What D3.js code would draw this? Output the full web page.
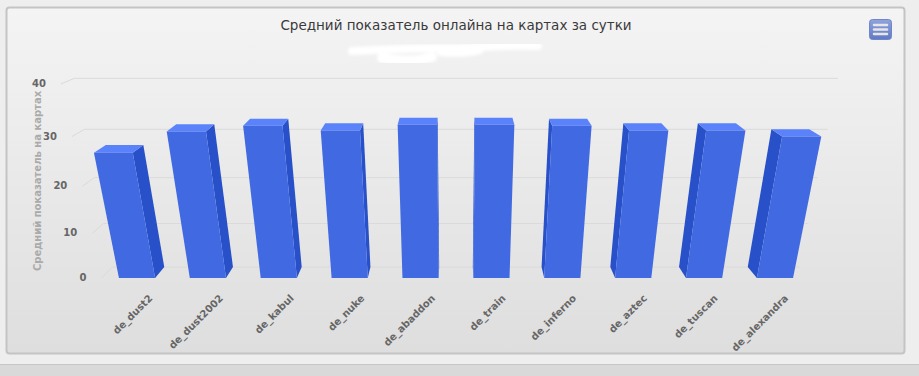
<!DOCTYPE html>
<html>
<head>
<meta charset="utf-8">
<script src="https://d3js.org/d3.v7.min.js"></script>
<style>
  body { margin: 0; background: #efefef; }
  svg { display: block; font-family: "DejaVu Sans", sans-serif; }
</style>
</head>
<body>
<svg width="919" height="376"></svg>
<script>
// data
var maps = ["de_dust2", "de_dust2002", "de_kabul", "de_nuke", "de_abaddon",
            "de_train", "de_inferno", "de_aztec", "de_tuscan", "de_alexandra"];
var online = [26.8, 31, 32.1, 31.2, 32.3, 32.3, 32.1, 31.2, 31.2, 30];
var yTicks = [0, 10, 20, 30, 40];
var title = "Средний показатель онлайна на картах за сутки";
var yTitle = "Средний показатель на картах";

var svg = d3.select("svg");
var plot = {left: 81, right: 831, top: 82.4, bottom: 291.1};

// simple 3d view: tilt around horizontal axis + perspective
var view = {cx: 456, cy: 180, alpha: 21 * Math.PI / 180, dist: 686, depth: 24.4};
function project(X, Y, Z) {
  var ca = Math.cos(view.alpha), sa = Math.sin(view.alpha);
  var x = X - view.cx, y = Y - view.cy;
  var y2 = ca * y - sa * Z, z2 = sa * y + ca * Z;
  var p = view.dist / (view.dist + z2);
  return [view.cx + x * p, view.cy + y2 * p];
}
function poly(pts) {
  return "M" + pts.map(function(q) { var r = project(q[0], q[1], q[2]); return r[0].toFixed(2) + "," + r[1].toFixed(2); }).join("L") + "Z";
}

var x = d3.scaleBand().domain(maps).range([plot.left, plot.right])
  .paddingInner(0.49).paddingOuter(0.245);
var y = d3.scaleLinear().domain([0, 40]).range([plot.bottom, plot.top]);

// backgrounds
var defs = svg.append("defs");
var bg = defs.append("linearGradient").attr("id", "bg").attr("x1", 0).attr("y1", 0).attr("x2", 0).attr("y2", 1);
bg.append("stop").attr("offset", "0%").attr("stop-color", "#f4f4f4");
bg.append("stop").attr("offset", "100%").attr("stop-color", "#dedede");
var btn = defs.append("linearGradient").attr("id", "btn").attr("x1", 0).attr("y1", 0).attr("x2", 0).attr("y2", 1);
btn.append("stop").attr("offset", "0%").attr("stop-color", "#90a3de");
btn.append("stop").attr("offset", "100%").attr("stop-color", "#6079c4");
defs.append("filter").attr("id", "blur").append("feGaussianBlur").attr("stdDeviation", 1.5);

svg.append("rect").attr("width", 919).attr("height", 376).attr("fill", "#eeeeee");
svg.append("rect").attr("x", 0).attr("y", 364).attr("width", 919).attr("height", 12).attr("fill", "#d9d9d9");
svg.append("line").attr("x1", 0).attr("x2", 919).attr("y1", 364.5).attr("y2", 364.5).attr("stroke", "#c6c6c6");

svg.append("rect").attr("x", 6.5).attr("y", 7.5).attr("width", 898).attr("height", 346).attr("rx", 3)
  .attr("fill", "url(#bg)").attr("stroke", "#c4c4c4").attr("stroke-width", 2);

// title + hidden subtitle smear
svg.append("text").attr("x", 456).attr("y", 30).attr("text-anchor", "middle")
  .attr("font-size", 13.5).attr("fill", "#3a3a3a").text(title);
var smear = svg.append("g").attr("filter", "url(#blur)").attr("fill", "none").attr("stroke", "#fff").attr("stroke-linecap", "round");
smear.append("path").attr("d", "M352,51 C390,49 430,48 460,48 C490,46 515,45 538,46").attr("stroke-width", 8);
smear.append("path").attr("d", "M382,58 C400,62 420,61 432,57").attr("stroke-width", 10);
smear.append("path").attr("d", "M440,53 C460,55 470,53 480,51").attr("stroke-width", 6);

// menu button
svg.append("rect").attr("x", 869.5).attr("y", 19.5).attr("width", 22).attr("height", 20).attr("rx", 3)
  .attr("fill", "url(#btn)").attr("stroke", "#7086c8");
[25, 29.5, 34].forEach(function(v) {
  svg.append("line").attr("x1", 874).attr("x2", 887).attr("y1", v).attr("y2", v)
    .attr("stroke", "#e6e6e6").attr("stroke-width", 2.5).attr("stroke-linecap", "round");
});

// grid: back wall and left side wall
var grid = svg.append("g").attr("stroke", "#dadada").attr("fill", "none");
yTicks.forEach(function(t) {
  grid.append("path").attr("d", "M" + project(plot.left, y(t), view.depth) + "L" + project(plot.right, y(t), view.depth));
  grid.append("path").attr("d", "M" + project(plot.left, y(t), 0) + "L" + project(plot.left, y(t), view.depth));
});

// y labels
svg.append("g").selectAll("text").data(yTicks).join("text")
  .attr("x", function(t) { return project(plot.left, y(t), 0)[0] - 15; })
  .attr("y", function(t) { return project(plot.left, y(t), 0)[1] + 3; })
  .attr("text-anchor", "end").attr("font-size", 10).attr("font-weight", "bold").attr("fill", "#666")
  .text(function(t) { return t; });

svg.append("text").attr("transform", "translate(41,181) rotate(-90)").attr("text-anchor", "middle")
  .attr("font-size", 10).attr("font-weight", "bold").attr("fill", "#aaa").text(yTitle);

// bars
var bars = svg.append("g");
maps.forEach(function(m, i) {
  var x0 = x(m), x1 = x0 + x.bandwidth(), yt = y(online[i]), yb = y(0), d = view.depth;
  var g = bars.append("g");
  if (x1 < view.cx) {
    g.append("path").attr("fill", "#2850c8").attr("d", poly([[x1, yt, 0], [x1, yt, d], [x1, yb, d], [x1, yb, 0]]));
  } else if (x0 > view.cx) {
    g.append("path").attr("fill", "#2850c8").attr("d", poly([[x0, yt, 0], [x0, yt, d], [x0, yb, d], [x0, yb, 0]]));
  }
  g.append("path").attr("fill", "#5a82fa").attr("d", poly([[x0, yt, d], [x1, yt, d], [x1, yt, 0], [x0, yt, 0]]));
  g.append("path").attr("fill", "#4169e1").attr("d", poly([[x0, yt, 0], [x1, yt, 0], [x1, yb, 0], [x0, yb, 0]]));
});

// x labels
svg.append("g").selectAll("text").data(maps).join("text")
  .attr("transform", function(m) {
    var p = project(x(m) + x.bandwidth() / 2, y(0) + 7, 0);
    return "translate(" + (p[0] + 15) + "," + (p[1] + 15) + ") rotate(-45)";
  })
  .attr("text-anchor", "end").attr("font-size", 10).attr("font-weight", "bold").attr("fill", "#666")
  .text(function(m) { return m; });
</script>
</body>
</html>
